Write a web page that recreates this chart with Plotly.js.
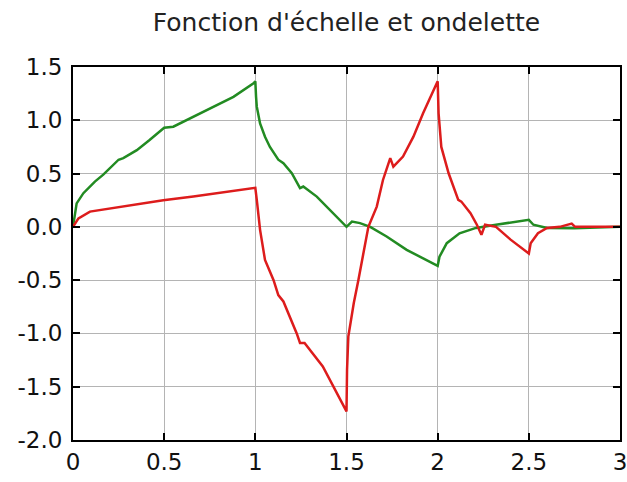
<!DOCTYPE html>
<html>
<head>
<meta charset="utf-8">
<script src="https://cdn.plot.ly/plotly-3.0.1.min.js"></script>
<style>
  html, body { margin: 0; padding: 0; background: #fff; }
  #chart { width: 627px; height: 482px; }
</style>
</head>
<body>
<div id="chart"></div>
<script>
// Scaling function (green)
const phiX = [0, 0.02, 0.057, 0.12, 0.166, 0.25, 0.276, 0.35, 0.42, 0.5, 0.55, 0.66, 0.77, 0.88, 0.99, 1.0,
  1.004, 1.008, 1.026, 1.053, 1.08, 1.126, 1.154, 1.2, 1.245, 1.263, 1.337, 1.41, 1.5, 1.53, 1.574, 1.63, 1.72,
  1.83, 1.94, 2.0, 2.01, 2.05, 2.12, 2.21, 2.32, 2.5, 2.525, 2.6, 2.75, 3.0];
const phiY = [0, 0.22, 0.316, 0.425, 0.49, 0.63, 0.645, 0.72, 0.815, 0.93, 0.94, 1.034, 1.128, 1.22, 1.347, 1.366,
  1.22, 1.128, 0.97, 0.846, 0.75, 0.63, 0.597, 0.503, 0.363, 0.378, 0.284, 0.16, 0.0, 0.05, 0.035, 0.0, -0.09,
  -0.216, -0.31, -0.366, -0.28, -0.153, -0.06, -0.01, 0.02, 0.066, 0.02, -0.01, -0.012, 0];

// Wavelet (red)
const psiX = [0, 0.03, 0.093, 0.26, 0.495, 0.66, 0.843, 0.99, 1.0, 1.008, 1.026, 1.053, 1.1, 1.126, 1.154,
  1.227, 1.245, 1.27, 1.37, 1.5, 1.503, 1.51, 1.54, 1.565, 1.59, 1.62, 1.666, 1.70, 1.74, 1.757, 1.81,
  1.867, 1.92, 2.0, 2.005, 2.02, 2.06, 2.086, 2.113, 2.13, 2.18, 2.215, 2.24, 2.26, 2.32, 2.4, 2.5, 2.51,
  2.55, 2.6, 2.67, 2.735, 2.754, 3.0];
const psiY = [0, 0.08, 0.143, 0.19, 0.25, 0.284, 0.33, 0.363, 0.366, 0.253, -0.028, -0.31, -0.5, -0.64, -0.70,
  -1.0, -1.09, -1.09, -1.31, -1.732, -1.34, -1.03, -0.715, -0.5, -0.28, 0.0, 0.19, 0.44, 0.645, 0.565, 0.66,
  0.846, 1.066, 1.366, 1.066, 0.75, 0.503, 0.378, 0.253, 0.237, 0.128, 0.02, -0.075, 0.02, 0.0, -0.12, -0.25, -0.153,
  -0.06, -0.01, 0.0, 0.03, 0.0, 0];

const xTicks = [0, 0.5, 1, 1.5, 2, 2.5, 3];
const xTickText = ['0', '0.5', '1', '1.5', '2', '2.5', '3'];
const yTicks = [-2.0, -1.5, -1.0, -0.5, 0.0, 0.5, 1.0, 1.5];
const yTickText = ['-2.0', '-1.5', '-1.0', '-0.5', '0.0', '0.5', '1.0', '1.5'];
const chartTitle = "Fonction d'échelle et ondelette";

const font = 'DejaVu Sans, sans-serif';

const traces = [
  { x: phiX, y: phiY, mode: 'lines', line: { color: '#228b22', width: 2.5 }, hoverinfo: 'skip' },
  { x: psiX, y: psiY, mode: 'lines', line: { color: '#dd1c1c', width: 2.5 }, hoverinfo: 'skip' }
];

const axisCommon = {
  showline: true, linecolor: '#000', linewidth: 2, mirror: 'ticks',
  ticks: 'inside', ticklen: 7, tickwidth: 2, tickcolor: '#000',
  showgrid: true, gridcolor: '#b4b4b4', gridwidth: 1,
  zeroline: false, tickmode: 'array', ticklabeloverflow: 'allow',
  tickfont: { family: font, size: 23, color: '#111' }
};

const layout = {
  width: 627, height: 482,
  margin: { l: 73, r: 7, t: 67, b: 42 },
  paper_bgcolor: '#fff', plot_bgcolor: '#fff',
  showlegend: false,
  title: {
    text: chartTitle, font: { family: font, size: 25, color: '#222' },
    xref: 'paper', x: 0.5, xanchor: 'center',
    yref: 'container', y: 1 - 22 / 482, yanchor: 'middle'
  },
  xaxis: Object.assign({}, axisCommon, { range: [0, 3], tickvals: xTicks, ticktext: xTickText }),
  yaxis: Object.assign({}, axisCommon, { range: [-2, 1.5], tickvals: yTicks, ticktext: yTickText, ticklabelstandoff: 4 })
};

Plotly.newPlot('chart', traces, layout, { staticPlot: true, displayModeBar: false });
</script>
</body>
</html>
